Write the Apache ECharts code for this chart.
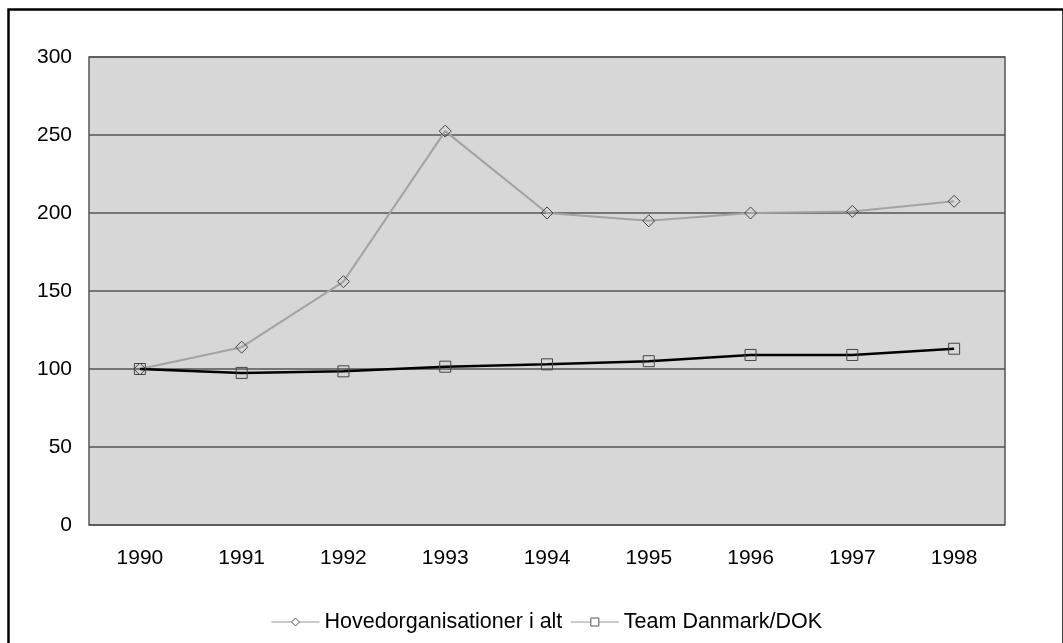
<!DOCTYPE html>
<html>
<head>
<meta charset="utf-8">
<script src="https://cdn.jsdelivr.net/npm/echarts@6/dist/echarts.min.js"></script>
<style>
  html, body { margin: 0; padding: 0; background: #fff; }
  #main { width: 1063px; height: 643px; }
</style>
</head>
<body>
<div id="main"></div>
<script>
const years = ["1990", "1991", "1992", "1993", "1994", "1995", "1996", "1997", "1998"];
const hovedorg = [100, 114, 156, 252.5, 200, 195, 200, 201, 207.5];
const teamDanmark = [100, 97.5, 98.5, 101.5, 103, 105, 109, 109, 113];

const font = "Liberation Sans, Arial, sans-serif";

const myChart = echarts.init(document.getElementById("main"));

myChart.setOption({
  animation: false,
  textStyle: { fontFamily: font },
  graphic: [
    {
      // outer frame
      type: "rect",
      left: 6,
      top: 7,
      shape: { width: 1055, height: 700 },
      style: { fill: "none", stroke: "#000", lineWidth: 2.5 },
    },
  ],
  grid: {
    left: 89,
    right: 58,
    top: 57,
    bottom: 118,
    show: true,
    backgroundColor: "#d7d7d7",
    borderColor: "#555",
    borderWidth: 1.5,
  },
  legend: {
    bottom: 5,
    left: 266,
    itemWidth: 48,
    itemHeight: 10,
    itemGap: 8,
    textStyle: { fontSize: 21.5, color: "#000", fontFamily: font },
    data: [
      {
        name: "Hovedorganisationer i alt",
        itemStyle: { color: "#fff", borderColor: "#555", borderWidth: 1 },
        lineStyle: { color: "#999", width: 1 },
      },
      {
        name: "Team Danmark/DOK",
        itemStyle: { color: "#fff", borderColor: "#555", borderWidth: 1 },
        lineStyle: { color: "#999", width: 1 },
      },
    ],
  },
  xAxis: {
    type: "category",
    data: years,
    boundaryGap: true,
    axisLine: { show: false },
    axisTick: { show: false },
    axisLabel: { fontSize: 21, color: "#000", margin: 23 },
  },
  yAxis: {
    type: "value",
    min: 0,
    max: 300,
    interval: 50,
    axisLine: { show: false },
    axisTick: { show: false },
    axisLabel: { fontSize: 21, color: "#000", margin: 17 },
    splitLine: { lineStyle: { color: "#555", width: 1.5 } },
  },
  series: [
    {
      name: "Hovedorganisationer i alt",
      type: "line",
      data: hovedorg,
      symbol: "diamond",
      symbolSize: 12,
      lineStyle: { color: "#a3a3a3", width: 2 },
      itemStyle: { color: "rgba(0,0,0,0)", borderColor: "#444", borderWidth: 1 },
    },
    {
      name: "Team Danmark/DOK",
      type: "line",
      data: teamDanmark,
      symbol: "rect",
      symbolSize: 11,
      lineStyle: { color: "#000", width: 2.5 },
      itemStyle: { color: "rgba(0,0,0,0)", borderColor: "#444", borderWidth: 1 },
    },
  ],
});
</script>
</body>
</html>
